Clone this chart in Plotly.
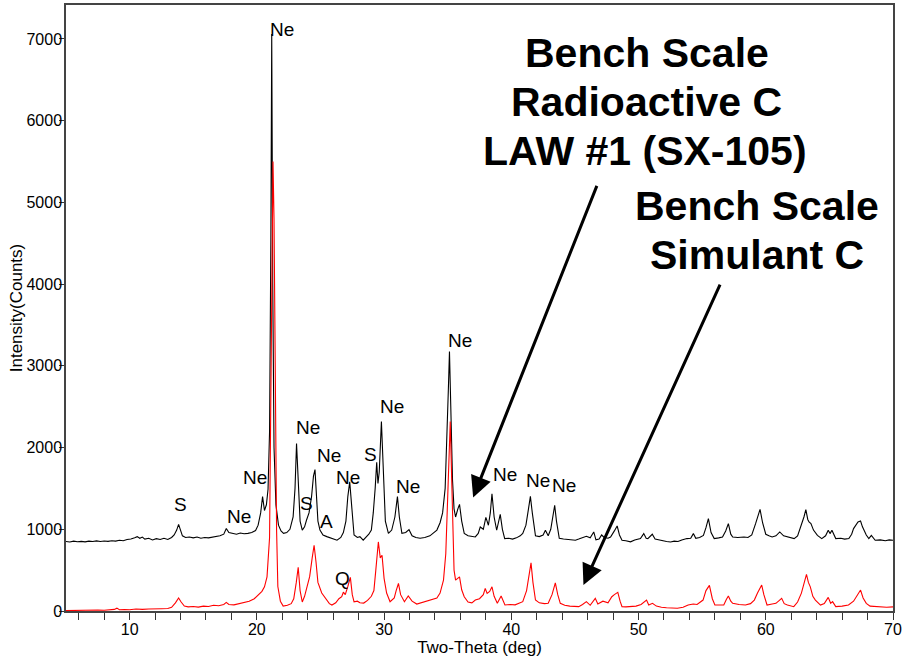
import plotly.graph_objects as go

# ---- Data (two-theta in deg, intensity in counts) ----
black_x = [5.0, 5.3, 5.6, 5.9, 6.2, 6.5, 6.8, 7.1, 7.4, 7.7, 8.0, 8.3, 8.6, 8.9, 9.2, 9.5, 9.8, 10.1, 10.4, 10.6,
           10.8, 11.0, 11.2, 11.5, 11.8, 12.1, 12.4, 12.7, 13.0, 13.3, 13.5, 13.7, 13.85, 14.0, 14.15, 14.4, 14.7,
           15.0, 15.3, 15.6, 15.9, 16.2, 16.5, 16.8, 17.1, 17.4, 17.6, 17.8, 18.1, 18.4, 18.7, 19.0, 19.3, 19.6,
           19.9, 20.1, 20.3, 20.45, 20.6, 20.75, 20.88, 21.0, 21.1, 21.17, 21.25, 21.35, 21.5, 21.7, 21.9, 22.1,
           22.35, 22.6, 22.85, 23.0, 23.12, 23.25, 23.4, 23.57, 23.75, 23.9, 24.1, 24.3, 24.45, 24.57, 24.7, 24.8,
           24.96, 25.2, 25.5, 25.8, 26.0, 26.3, 26.6, 26.8, 27.0, 27.15, 27.3, 27.45, 27.64, 27.9, 28.1, 28.36,
           28.6, 28.8, 29.0, 29.15, 29.3, 29.42, 29.52, 29.62, 29.79, 29.95, 30.1, 30.34, 30.6, 30.85, 31.05, 31.2,
           31.4, 31.7, 31.96, 32.2, 32.5, 32.83, 33.2, 33.6, 33.9, 34.15, 34.4, 34.6, 34.8, 34.95, 35.05, 35.14,
           35.25, 35.38, 35.5, 35.62, 35.8, 35.93, 36.1, 36.3, 36.6, 36.9, 37.17, 37.4, 37.56, 37.8, 38.0, 38.2,
           38.35, 38.48, 38.65, 38.85, 39.0, 39.13, 39.3, 39.48, 39.8, 40.1, 40.4, 40.7, 40.9, 41.15, 41.35, 41.5,
           41.65, 41.9, 42.2, 42.5, 42.68, 42.9, 43.1, 43.25, 43.41, 43.55, 43.77, 44.1, 44.5, 44.8, 45.04, 45.3,
           45.6, 45.9, 46.2, 46.48, 46.65, 46.9, 47.1, 47.3, 47.6, 47.8, 48.1, 48.32, 48.5, 48.7, 49.0, 49.37,
           49.7, 50.0, 50.15, 50.41, 50.6, 50.73, 51.08, 51.3, 51.6, 51.9, 52.2, 52.52, 52.8, 53.1, 53.4, 53.8,
           54.1, 54.31, 54.5, 54.8, 55.1, 55.3, 55.49, 55.7, 55.95, 56.3, 56.6, 56.85, 57.06, 57.25, 57.4, 57.8,
           58.29, 58.6, 58.9, 59.2, 59.4, 59.55, 59.75, 60.0, 60.25, 60.5, 60.8, 61.1, 61.4, 61.7, 62.0, 62.23,
           62.5, 62.8, 63.0, 63.15, 63.3, 63.4, 63.55, 63.75, 64.06, 64.4, 64.7, 64.91, 65.05, 65.2, 65.5, 65.9,
           66.2, 66.53, 66.75, 66.9, 67.1, 67.25, 67.45, 67.6, 67.9, 68.1, 68.3, 68.6, 69.0, 69.4, 69.7, 70.0]
black_y = [850, 845, 855, 848, 852, 846, 855, 850, 858, 850, 856, 852, 860, 855, 865, 860, 875, 880, 895, 910,
           890, 905, 880, 890, 870, 885, 875, 890, 875, 900, 930, 990, 1060, 1000, 920, 900, 905,
           895, 905, 890, 900, 895, 905, 915, 920, 940, 1010, 960, 950, 940, 955, 945, 950, 960,
           985, 1050, 1200, 1400, 1230, 1300, 1490, 2200, 4500, 7060, 4000, 2000, 1300, 1050, 980, 950,
           960, 1000, 1150, 1500, 2050, 1500, 1100, 990, 1030, 1110, 1200, 1400, 1650, 1730, 1400, 1100,
           990, 930, 910, 890, 880, 866, 900, 960, 1100, 1400, 1580, 1250, 930, 900, 910, 866,
           900, 940, 990, 1200, 1500, 1820, 1560, 1700, 2320, 1600, 1100, 950, 990, 1150, 1400, 1150,
           950, 960, 995, 920, 900, 890, 900, 920, 960, 990, 1080, 1200, 1500, 2100, 2700, 3175,
           2400, 1600, 1250, 1150, 1250, 1305, 1100, 950, 920, 910, 906, 950, 1028, 1000, 1146, 1049,
           1200, 1435, 1150, 988, 1080, 1183, 1000, 886, 890, 880, 895, 920, 950, 1050, 1250, 1402,
           1200, 920, 910, 930, 988, 920, 1000, 1150, 1293, 1100, 890, 880, 875, 870, 866, 880,
           900, 915, 895, 967, 870, 880, 930, 900, 890, 906, 980, 1041, 930, 866, 860, 846,
           870, 875, 886, 947, 890, 886, 939, 880, 870, 855, 850, 845, 855, 850, 870, 886,
           890, 947, 890, 900, 925, 1020, 1130, 960, 886, 895, 906, 980, 1069, 940, 906, 900,
           906, 900, 930, 1069, 1180, 1244, 1080, 939, 920, 906, 920, 967, 920, 906, 895, 886,
           920, 1049, 1150, 1240, 1120, 1089, 1070, 990, 926, 886, 920, 988, 947, 988, 886, 890,
           880, 886, 940, 1008, 1060, 1090, 1101, 1030, 930, 886, 926, 866, 870, 860, 870, 866]

red_x = [5.0, 5.5, 6.0, 6.5, 7.0, 7.5, 8.0, 8.5, 8.8, 9.0, 9.2, 9.6, 10.0, 10.5, 11.0, 11.5, 12.0, 12.5, 13.0,
         13.3, 13.6, 13.85, 14.05, 14.3, 14.6, 15.0, 15.4, 15.8, 16.2, 16.6, 17.0, 17.4, 17.6, 17.8, 18.2, 18.6,
         19.0, 19.4, 19.8, 20.1, 20.4, 20.6, 20.8, 21.0, 21.1, 21.2, 21.27, 21.35, 21.45, 21.55, 21.65, 21.85,
         22.07, 22.4, 22.7, 22.9, 23.1, 23.25, 23.4, 23.57, 23.75, 23.95, 24.15, 24.35, 24.5, 24.65, 24.8, 25.1,
         25.4, 25.7, 25.9, 26.2, 26.45, 26.67, 26.8, 26.95, 27.15, 27.35, 27.5, 27.64, 27.9, 28.1, 28.4, 28.7,
         29.0, 29.2, 29.35, 29.55, 29.7, 29.84, 30.0, 30.2, 30.47, 30.8, 30.95, 31.13, 31.3, 31.6, 31.9, 32.2,
         32.57, 32.9, 33.3, 33.7, 34.15, 34.4, 34.67, 34.85, 35.0, 35.1, 35.2, 35.3, 35.4, 35.5, 35.62, 35.8,
         35.93, 36.1, 36.3, 36.6, 36.9, 37.17, 37.5, 37.8, 37.95, 38.1, 38.3, 38.48, 38.65, 38.9, 39.2, 39.5,
         39.9, 40.3, 40.6, 40.9, 41.2, 41.4, 41.55, 41.7, 41.9, 42.2, 42.6, 42.9, 43.2, 43.46, 43.65, 43.85,
         44.2, 44.6, 45.0, 45.3, 45.6, 45.9, 46.2, 46.6, 46.8, 47.2, 47.6, 47.9, 48.1, 48.37, 48.55, 48.7,
         49.0, 49.4, 49.8, 50.2, 50.63, 50.8, 51.1, 51.4, 51.8, 52.2, 52.6, 53.05, 53.5, 53.9, 54.3, 54.6,
         55.07, 55.3, 55.57, 55.8, 56.0, 56.4, 56.7, 56.9, 57.06, 57.25, 57.4, 57.9, 58.4, 58.8, 59.1, 59.35,
         59.68, 59.85, 60.1, 60.5, 60.8, 61.0, 61.25, 61.45, 61.7, 62.2, 62.5, 62.8, 63.0, 63.2, 63.35, 63.5,
         63.7, 63.9, 64.3, 64.6, 64.91, 65.1, 65.25, 65.5, 66.0, 66.5, 66.9, 67.2, 67.45, 67.65, 67.9, 68.2,
         68.6, 69.0, 69.5, 70.0]
red_y = [5, 8, 6, 10, 8, 12, 10, 14, 20, 35, 15, 18, 15, 25, 20, 25, 22, 28, 30,
         45, 100, 160, 110, 60, 50, 55, 48, 60, 55, 70, 65, 80, 105, 80, 75, 90,
         100, 120, 150, 195, 240, 296, 418, 900, 2500, 4800, 5500, 4800, 2600, 1000, 300, 120,
         60, 70, 90, 150, 350, 535, 250, 110, 180, 290, 420, 650, 805, 600, 350, 220,
         150, 90, 73, 100, 150, 175, 230, 200, 300, 412, 200, 113, 120, 100, 97, 130,
         180, 250, 500, 845, 650, 683, 400, 220, 113, 160, 250, 337, 200, 113, 183, 120,
         85, 100, 120, 130, 158, 220, 378, 700, 1300, 1900, 2320, 1700, 900, 500, 378, 400,
         418, 260, 175, 110, 100, 134, 150, 200, 276, 215, 240, 296, 180, 94, 183, 73,
         80, 75, 90, 114, 250, 450, 589, 350, 134, 100, 90, 94, 200, 345, 200, 94,
         70, 60, 55, 53, 80, 114, 70, 155, 85, 120, 100, 175, 200, 228, 120, 53,
         50, 55, 60, 80, 134, 73, 94, 60, 45, 40, 35, 33, 45, 73, 85, 80,
         134, 250, 313, 150, 73, 70, 73, 140, 183, 120, 94, 80, 73, 90, 134, 220,
         317, 200, 73, 85, 94, 120, 155, 90, 73, 53, 110, 219, 350, 447, 350, 296,
         180, 134, 73, 90, 167, 94, 114, 53, 60, 73, 120, 200, 256, 160, 94, 60,
         53, 50, 45, 50]

# Phase labels on the peaks
peak_text = ["Ne", "S", "Ne", "Ne", "Ne", "S", "Ne", "A", "Ne", "S", "Ne", "Ne", "Ne", "Q", "Ne", "Ne", "Ne"]
peak_tx = [21.97, 14.02, 18.58, 19.84, 24.01, 23.94, 25.67, 25.51, 27.17, 28.9, 30.63, 31.89, 35.98, 26.77,
           39.53, 42.13, 44.17]
peak_ty = [7110, 1305, 1159, 1634, 2244, 1317, 1902, 1098, 1634, 1915, 2500, 1524, 3305, 402,
           1671, 1598, 1537]

# Big callout text lines
big_text = ["Bench Scale", "Radioactive C", "LAW #1 (SX-105)", "Bench Scale", "Simulant C"]
big_tx = [50.7, 50.6, 50.5, 59.3, 59.3]
big_ty = [6829, 6232, 5634, 4951, 4354]

# Arrows: (tip x, tip y, tail x, tail y)
arrow_tip_x = [37.0, 45.67]
arrow_tip_y = [1390, 317]
arrow_tail_x = [46.77, 56.46]
arrow_tail_y = [5220, 4012]

x_ticks = [10, 20, 30, 40, 50, 60, 70]
y_ticks = [0, 1000, 2000, 3000, 4000, 5000, 6000, 7000]

FONT = "Arial, Liberation Sans, sans-serif"

fig = go.Figure()
fig.add_trace(go.Scatter(x=black_x, y=black_y, mode="lines",
                         line=dict(color="black", width=1.1), showlegend=False))
fig.add_trace(go.Scatter(x=red_x, y=red_y, mode="lines",
                         line=dict(color="#ff0000", width=1.1), showlegend=False))

annotations = []
for t, x, y in zip(peak_text, peak_tx, peak_ty):
    annotations.append(dict(x=x, y=y, xref="x", yref="y", text=t, showarrow=False,
                            font=dict(family=FONT, size=19, color="black")))
for t, x, y in zip(big_text, big_tx, big_ty):
    annotations.append(dict(x=x, y=y, xref="x", yref="y", text="<b>" + t + "</b>", showarrow=False,
                            font=dict(family=FONT, size=41, color="black")))
for tx, ty, sx, sy in zip(arrow_tip_x, arrow_tip_y, arrow_tail_x, arrow_tail_y):
    annotations.append(dict(x=tx, y=ty, ax=sx, ay=sy, xref="x", yref="y", axref="x", ayref="y",
                            text="", showarrow=True, arrowhead=2, arrowsize=1.4, arrowwidth=3,
                            arrowcolor="black", standoff=0))

fig.update_layout(
    width=906, height=663,
    margin=dict(l=66, r=13, t=3, b=52),
    paper_bgcolor="white", plot_bgcolor="white",
    font=dict(family=FONT, size=16, color="black"),
    annotations=annotations,
    xaxis=dict(range=[5, 70], tickvals=x_ticks, ticks="outside", ticklen=7, tickcolor="#333",
               minor=dict(dtick=2, tick0=0, ticks="outside", ticklen=7, tickcolor="#333"),
               showgrid=False, zeroline=False, showline=True, linecolor="#444", linewidth=1.5,
               mirror=True, tickfont=dict(size=16), ticklabelstandoff=-4,
               title=dict(text="Two-Theta (deg)", font=dict(size=17), standoff=0)),
    yaxis=dict(range=[0, 7415], tickvals=y_ticks, ticks="outside", ticklen=5, tickcolor="#333",
               showgrid=False, zeroline=False, showline=True, linecolor="#444", linewidth=1.5,
               mirror=True, tickfont=dict(size=16), ticklabelstandoff=-6,
               title=dict(text="Intensity(Counts)", font=dict(size=17), standoff=0)),
)

fig.write_html("out.html")
